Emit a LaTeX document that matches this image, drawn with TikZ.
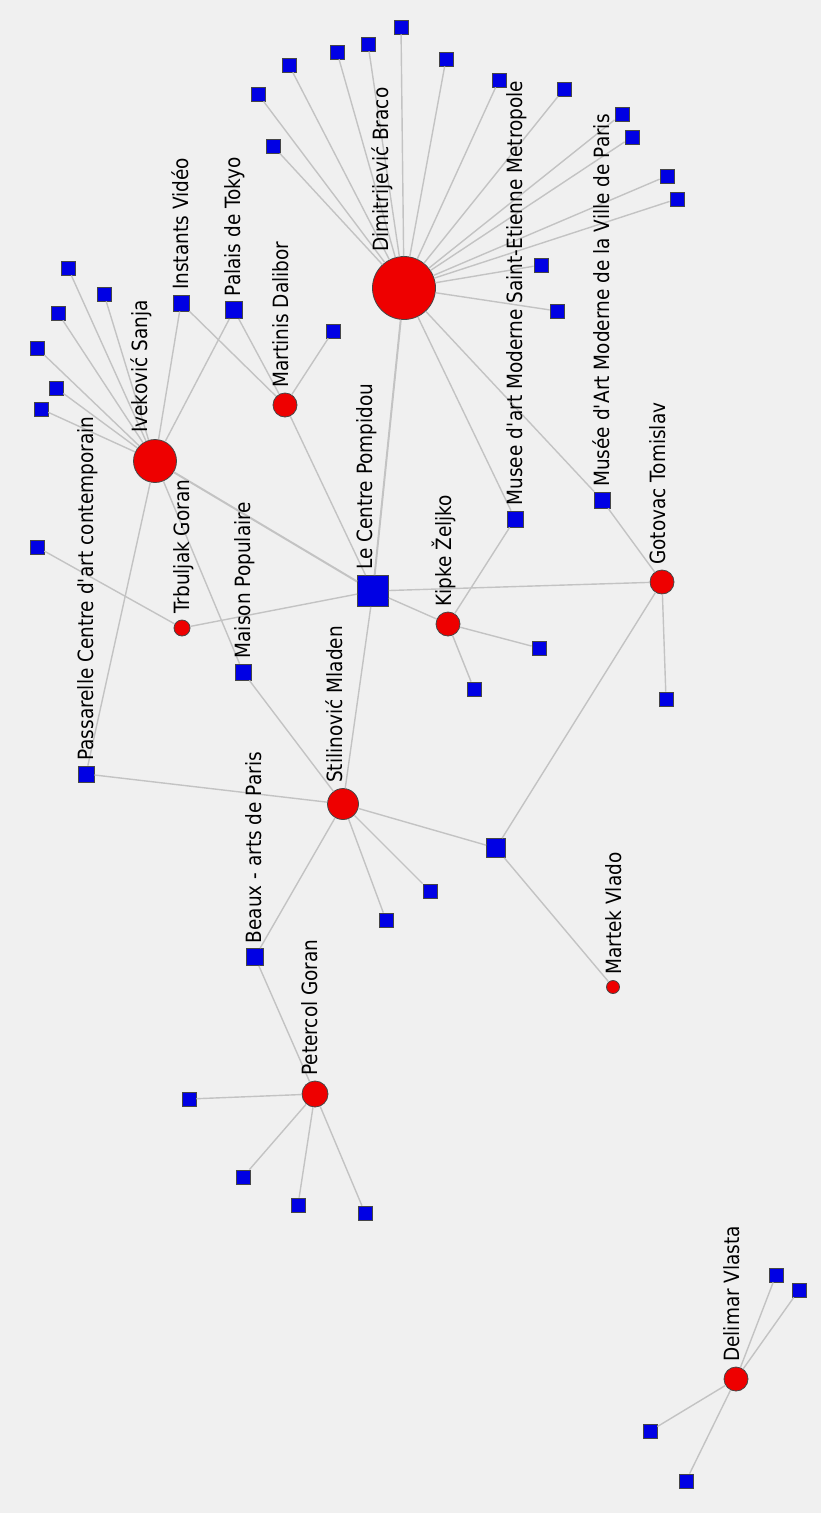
\documentclass[tikz,border=0pt]{standalone}
\usepackage{fontspec}
\setmainfont{DejaVu Sans}[FakeStretch=0.88]
\definecolor{bgcol}{RGB}{240,240,240}
\definecolor{nodered}{RGB}{238,0,0}
\definecolor{nodeblue}{RGB}{0,0,228}
\definecolor{edgegray}{RGB}{195,195,195}
\definecolor{rimgray}{RGB}{70,70,70}
\tikzset{
  person/.style={circle,draw=rimgray,fill=nodered,line width=0.8pt,inner sep=0pt,minimum size=#1},
  place/.style={rectangle,draw=rimgray,fill=nodeblue,line width=0.8pt,inner sep=0pt,minimum size=#1},
  link/.style={draw=edgegray,line width=1.4pt},
  tag/.style={rotate=90,anchor=base west,inner sep=0pt,font=\fontsize{21}{24}\selectfont}
}
\begin{document}
\begin{tikzpicture}[x=1pt,y=-1pt]
\useasboundingbox (0,0) rectangle (821,1513);
\fill[bgcol] (0,0) rectangle (821,1513);
%% people
\node[person=63pt] (dim) at (404,288) {};
\node[person=43pt] (ive) at (155,461) {};
\node[person=24pt] (mar) at (285,405) {};
\node[person=16pt] (trb) at (182,628) {};
\node[person=31pt] (sti) at (343,804) {};
\node[person=24pt] (kip) at (448,624) {};
\node[person=24pt] (got) at (662,582) {};
\node[person=13pt] (mrt) at (613,987) {};
\node[person=26pt] (pet) at (315,1094) {};
\node[person=24pt] (del) at (736,1379) {};
%% places
\node[place=31pt] (pom) at (373,591) {};
\node[place=16pt] (inv) at (181,303) {};
\node[place=17pt] (pal) at (234,310) {};
\node[place=16pt] (mai) at (243,672) {};
\node[place=16pt] (pas) at (86,774) {};
\node[place=17pt] (bea) at (255,957) {};
\node[place=16pt] (mse) at (515,519) {};
\node[place=16pt] (mvp) at (602,500) {};
\node[place=19pt] (hub) at (496,848) {};
%% small places
\foreach \i/\x/\y in {1/401/27,2/368/44,3/337/52,4/289/65,5/258/94,6/273/146,7/446/59,8/499/80,
  9/564/89,10/622/114,11/632/137,12/667/176,13/677/199,14/541/265,15/557/311}
  \node[place=14pt] (dim\i) at (\x,\y) {};
\foreach \i/\x/\y in {1/68/268,2/104/294,3/58/313,4/37/348,5/56/388,6/41/409}
  \node[place=14pt] (ive\i) at (\x,\y) {};
\node[place=14pt] (mar1) at (333,331) {};
\node[place=14pt] (trb1) at (37,547) {};
\node[place=14pt] (sti1) at (386,920) {};
\node[place=14pt] (sti2) at (430,891) {};
\node[place=14pt] (kip1) at (539,648) {};
\node[place=14pt] (kip2) at (474,689) {};
\node[place=14pt] (got1) at (666,699) {};
\foreach \i/\x/\y in {1/189/1099,2/243/1177,3/298/1205,4/365/1213}
  \node[place=14pt] (pet\i) at (\x,\y) {};
\foreach \i/\x/\y in {1/776/1275,2/799/1290,3/650/1431,4/686/1481}
  \node[place=14pt] (del\i) at (\x,\y) {};
%% links
\foreach \i in {1,...,15} \draw[link] (dim) -- (dim\i);
\foreach \i in {1,...,6} \draw[link] (ive) -- (ive\i);
\foreach \i in {1,...,4} \draw[link] (pet) -- (pet\i);
\foreach \i in {1,...,4} \draw[link] (del) -- (del\i);
\draw[link,line width=2pt] (dim) -- (pom);
\draw[link] (dim) -- (mse);
\draw[link] (dim) -- (mvp);
\draw[link,line width=2pt] (ive) -- (pom);
\draw[link] (ive) -- (inv);
\draw[link] (ive) -- (pal);
\draw[link] (ive) -- (mai);
\draw[link] (ive) -- (pas);
\draw[link] (mar) -- (inv);
\draw[link] (mar) -- (pal);
\draw[link] (mar) -- (mar1);
\draw[link] (mar) -- (pom);
\draw[link] (trb) -- (trb1);
\draw[link] (trb) -- (pom);
\draw[link] (sti) -- (pas);
\draw[link] (sti) -- (mai);
\draw[link] (sti) -- (pom);
\draw[link] (sti) -- (bea);
\draw[link] (sti) -- (sti1);
\draw[link] (sti) -- (sti2);
\draw[link] (sti) -- (hub);
\draw[link] (hub) -- (got);
\draw[link] (hub) -- (mrt);
\draw[link] (kip) -- (pom);
\draw[link] (kip) -- (mse);
\draw[link] (kip) -- (kip1);
\draw[link] (kip) -- (kip2);
\draw[link] (got) -- (pom);
\draw[link] (got) -- (mvp);
\draw[link] (got) -- (got1);
\draw[link] (pet) -- (bea);
%% labels
\node[tag] (ldim) at (388,252) {Dimitrijević Braco};
\node[tag] (live) at (147,433) {Iveković Sanja};
\node[tag] (linv) at (188,290) {Instants Vidéo};
\node[tag] (lpal) at (240.5,296.5) {Palais de Tokyo};
\node[tag] (lmar) at (288,388) {Martinis Dalibor};
\node[tag] (lpom) at (372.5,570) {Le Centre Pompidou};
\node[tag] (ltrb) at (189,614) {Trbuljak Goran};
\node[tag] (lmai) at (250,658.5) {Maison Populaire};
\node[tag] (lpas) at (93,761) {Passarelle Centre d\textquotesingle art contemporain};
\node[tag] (lsti) at (342.5,783) {Stilinović Mladen};
\node[tag] (lbea) at (261.5,943.5) {Beaux - arts de Paris};
\node[tag] (lpet) at (317,1076) {Petercol Goran};
\node[tag] (lmrt) at (621,975) {Martek Vlado};
\node[tag] (lkip) at (451,607) {Kipke Željko};
\node[tag] (lgot) at (665,565) {Gotovac Tomislav};
\node[tag] (lmse) at (522,505.5) {Musee d\textquotesingle art Moderne Saint-Etienne Metropole};
\node[tag] (lmvp) at (609,487) {Musée d\textquotesingle Art Moderne de la Ville de Paris};
\node[tag] (ldel) at (739,1362) {Delimar Vlasta};
\end{tikzpicture}
\end{document}
